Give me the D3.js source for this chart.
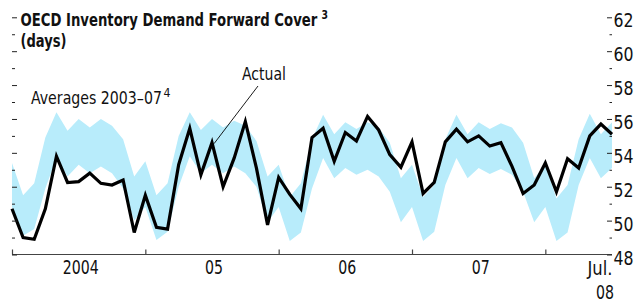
<!DOCTYPE html>
<html>
<head>
<meta charset="utf-8">
<script src="https://cdn.jsdelivr.net/npm/d3@7"></script>
<style>
  html, body { margin: 0; padding: 0; background: #fff; }
  svg { display: block; }
  text { font-family: "Liberation Sans Narrow", "Arial Narrow", "DejaVu Sans Condensed", sans-serif; fill: #111; }
</style>
</head>
<body>
<svg id="chart" width="637" height="303"></svg>
<script>
// ---- Data (monthly, Jan 2004 – Jul 2008) ----
const months = [
  "2004-01","2004-02","2004-03","2004-04","2004-05","2004-06","2004-07","2004-08","2004-09","2004-10","2004-11","2004-12",
  "2005-01","2005-02","2005-03","2005-04","2005-05","2005-06","2005-07","2005-08","2005-09","2005-10","2005-11","2005-12",
  "2006-01","2006-02","2006-03","2006-04","2006-05","2006-06","2006-07","2006-08","2006-09","2006-10","2006-11","2006-12",
  "2007-01","2007-02","2007-03","2007-04","2007-05","2007-06","2007-07","2007-08","2007-09","2007-10","2007-11","2007-12",
  "2008-01","2008-02","2008-03","2008-04","2008-05","2008-06","2008-07"
];
const actual = [
  50.7, 49.0, 48.9, 50.7, 53.8, 52.25, 52.3, 52.8, 52.2, 52.1, 52.4, 49.3,
  51.5, 49.6, 49.5, 53.3, 55.45, 52.7, 54.6, 52.0, 53.7, 55.85, 53.1, 49.75,
  52.55, 51.55, 50.7, 54.9, 55.45, 53.5, 55.2, 54.7, 56.15, 55.35, 53.9, 53.15,
  54.65, 51.6, 52.25, 54.65, 55.4, 54.65, 55.0, 54.4, 54.6, 53.2, 51.6, 52.1,
  53.4, 51.7, 53.65, 53.1, 55.0, 55.7, 55.1
];
const avgUpper = [
  53.4, 51.5, 52.2, 54.9, 56.4, 55.3, 56.0, 55.5, 56.0, 55.6, 54.8, 52.6,
  53.5, 51.5, 52.2, 55.0, 56.4, 55.35, 56.0, 55.5, 55.9, 55.6, 54.7, 52.6,
  53.3, 51.4, 52.2, 54.8, 56.25, 55.1, 55.8, 55.4, 55.8, 55.5, 54.6, 52.5,
  53.3, 51.4, 52.1, 54.8, 56.25, 55.1, 55.8, 55.4, 55.75, 55.5, 54.6, 52.5,
  53.3, 51.3, 52.1, 54.8, 56.3, 55.1, 55.8
];
const avgLower = [
  50.8, 49.1, 49.5, 51.9, 53.7, 52.6, 53.3, 52.8, 53.2, 52.8, 51.9, 50.0,
  50.8, 48.85, 49.35, 52.0, 53.8, 52.8, 53.3, 52.8, 53.2, 52.8, 52.0, 49.9,
  50.8, 48.8, 49.3, 51.9, 53.7, 52.5, 53.1, 52.7, 53.0, 52.6, 51.7, 49.9,
  50.8, 48.8, 49.35, 52.1, 53.7, 52.5, 53.1, 52.75, 53.05, 52.7, 51.7, 49.9,
  50.8, 48.8, 49.3, 52.1, 53.7, 52.5, 53.1
];
const yearStarts = ["2004-01","2005-01","2006-01","2007-01","2008-01"];
const yearLabels = [
  {at: "2004-07", text: "2004"},
  {at: "2005-07", text: "05"},
  {at: "2006-07", text: "06"},
  {at: "2007-07", text: "07"}
];
const yMajor = [48, 50, 52, 54, 56, 58, 60, 62];
const yMinor = [49, 51, 53, 55, 57, 59, 61];

// ---- Layout ----
const svg = d3.select("#chart");
const mLeft = 12, mRight = 612, mTop = 17.3, mBottom = 254.5;

const x = d3.scalePoint().domain(months).range([mLeft, mRight]);
const y = d3.scaleLinear().domain([48, 62]).range([mBottom, mTop]);

const rows = months.map((m, i) => ({m, a: actual[i], hi: avgUpper[i], lo: avgLower[i]}));

function fit(sel, perChar) {
  sel.each(function () {
    const t = d3.select(this);
    t.attr("textLength", perChar * t.text().length).attr("lengthAdjust", "spacingAndGlyphs");
  });
}
function fitTo(sel, len) {
  sel.attr("textLength", len).attr("lengthAdjust", "spacingAndGlyphs");
}
// horizontally scaled text (to mimic the original condensed face)
function squeezed(px, py, str, size, weight, width) {
  const t = svg.append("text")
    .attr("x", 0).attr("y", 0)
    .style("font-size", size + "px").style("font-weight", weight)
    .text(str);
  const natural = t.node().getComputedTextLength();
  t.attr("transform", `translate(${px},${py}) scale(${width / natural},1)`);
  return t;
}

// band
svg.append("path")
  .datum(rows)
  .attr("fill", "#b8ecfb")
  .attr("d", d3.area().x(d => x(d.m)).y0(d => y(d.lo)).y1(d => y(d.hi)));

// actual line
svg.append("path")
  .datum(rows)
  .attr("fill", "none")
  .attr("stroke", "#000")
  .attr("stroke-width", 3.2)
  .attr("stroke-linejoin", "miter")
  .attr("d", d3.line().x(d => x(d.m)).y(d => y(d.a)));

// x axis
const xAxis = svg.append("g")
  .attr("transform", `translate(0,${mBottom})`)
  .call(d3.axisBottom(x).tickValues(yearStarts).tickSize(-5).tickFormat(""));
xAxis.select(".domain").attr("d", `M${mLeft},0H${mRight}`).attr("stroke", "#444").attr("stroke-width", 1.2);
xAxis.selectAll(".tick line").attr("stroke", "#444").attr("stroke-width", 1.2);

svg.selectAll(".xlab")
  .data(yearLabels)
  .enter().append("text")
  .attr("class", "xlab")
  .attr("x", d => x(d.at) + 2)
  .attr("y", 274)
  .attr("text-anchor", "middle")
  .style("font-size", "19px")
  .text(d => d.text)
  .call(fit, 9);

svg.append("text").attr("x", 612.5).attr("y", 275).attr("text-anchor", "end")
  .style("font-size", "19px").text("Jul.").call(fitTo, 25);
svg.append("text").attr("x", 614).attr("y", 299).attr("text-anchor", "end")
  .style("font-size", "19px").text("08").call(fitTo, 18);

// right axis
const rAxis = svg.append("g")
  .attr("transform", `translate(${mRight},0)`)
  .call(d3.axisRight(y).tickValues(yMajor).tickSize(-5).tickPadding(1.5).tickFormat(d3.format("d")));
rAxis.select(".domain").remove();
rAxis.selectAll(".tick line").attr("stroke", "#222");
rAxis.selectAll(".tick text")
  .attr("dy", "0.5em")
  .style("font-size", "19px")
  .style("font-family", "'Liberation Sans Narrow', 'Arial Narrow', 'DejaVu Sans Condensed', sans-serif")
  .attr("fill", "#111")
  .call(fitTo, 20);

const rMinor = svg.append("g")
  .attr("transform", `translate(${mRight},0)`)
  .call(d3.axisRight(y).tickValues(yMinor).tickSize(-2.5).tickFormat(""));
rMinor.select(".domain").remove();
rMinor.selectAll(".tick line").attr("stroke", "#222");

// left axis ticks
const lAxis = svg.append("g")
  .attr("transform", `translate(${mLeft},0)`)
  .call(d3.axisLeft(y).tickValues(yMajor).tickSize(-5).tickFormat(""));
lAxis.select(".domain").remove();
lAxis.selectAll(".tick line").attr("stroke", "#222");
const lMinor = svg.append("g")
  .attr("transform", `translate(${mLeft},0)`)
  .call(d3.axisLeft(y).tickValues(yMinor).tickSize(-3).tickFormat(""));
lMinor.select(".domain").remove();
lMinor.selectAll(".tick line").attr("stroke", "#222");

// title
squeezed(20.5, 25.5, "OECD Inventory Demand Forward Cover", 18, "bold", 297);
squeezed(321.5, 18.5, "3", 12.5, "bold", 6.5);
squeezed(20.5, 47, "(days)", 18, "bold", 46);

// annotations
squeezed(31, 104, "Averages 2003–07", 18, "normal", 131);
squeezed(163.5, 97, "4", 11.5, "normal", 7);

squeezed(242, 80, "Actual", 18, "normal", 44);
svg.append("line")
  .attr("x1", 258).attr("y1", 86)
  .attr("x2", x("2005-07") + 2).attr("y2", y(actual[18]) + 1)
  .attr("stroke", "#000").attr("stroke-width", 0.9);
</script>
</body>
</html>
